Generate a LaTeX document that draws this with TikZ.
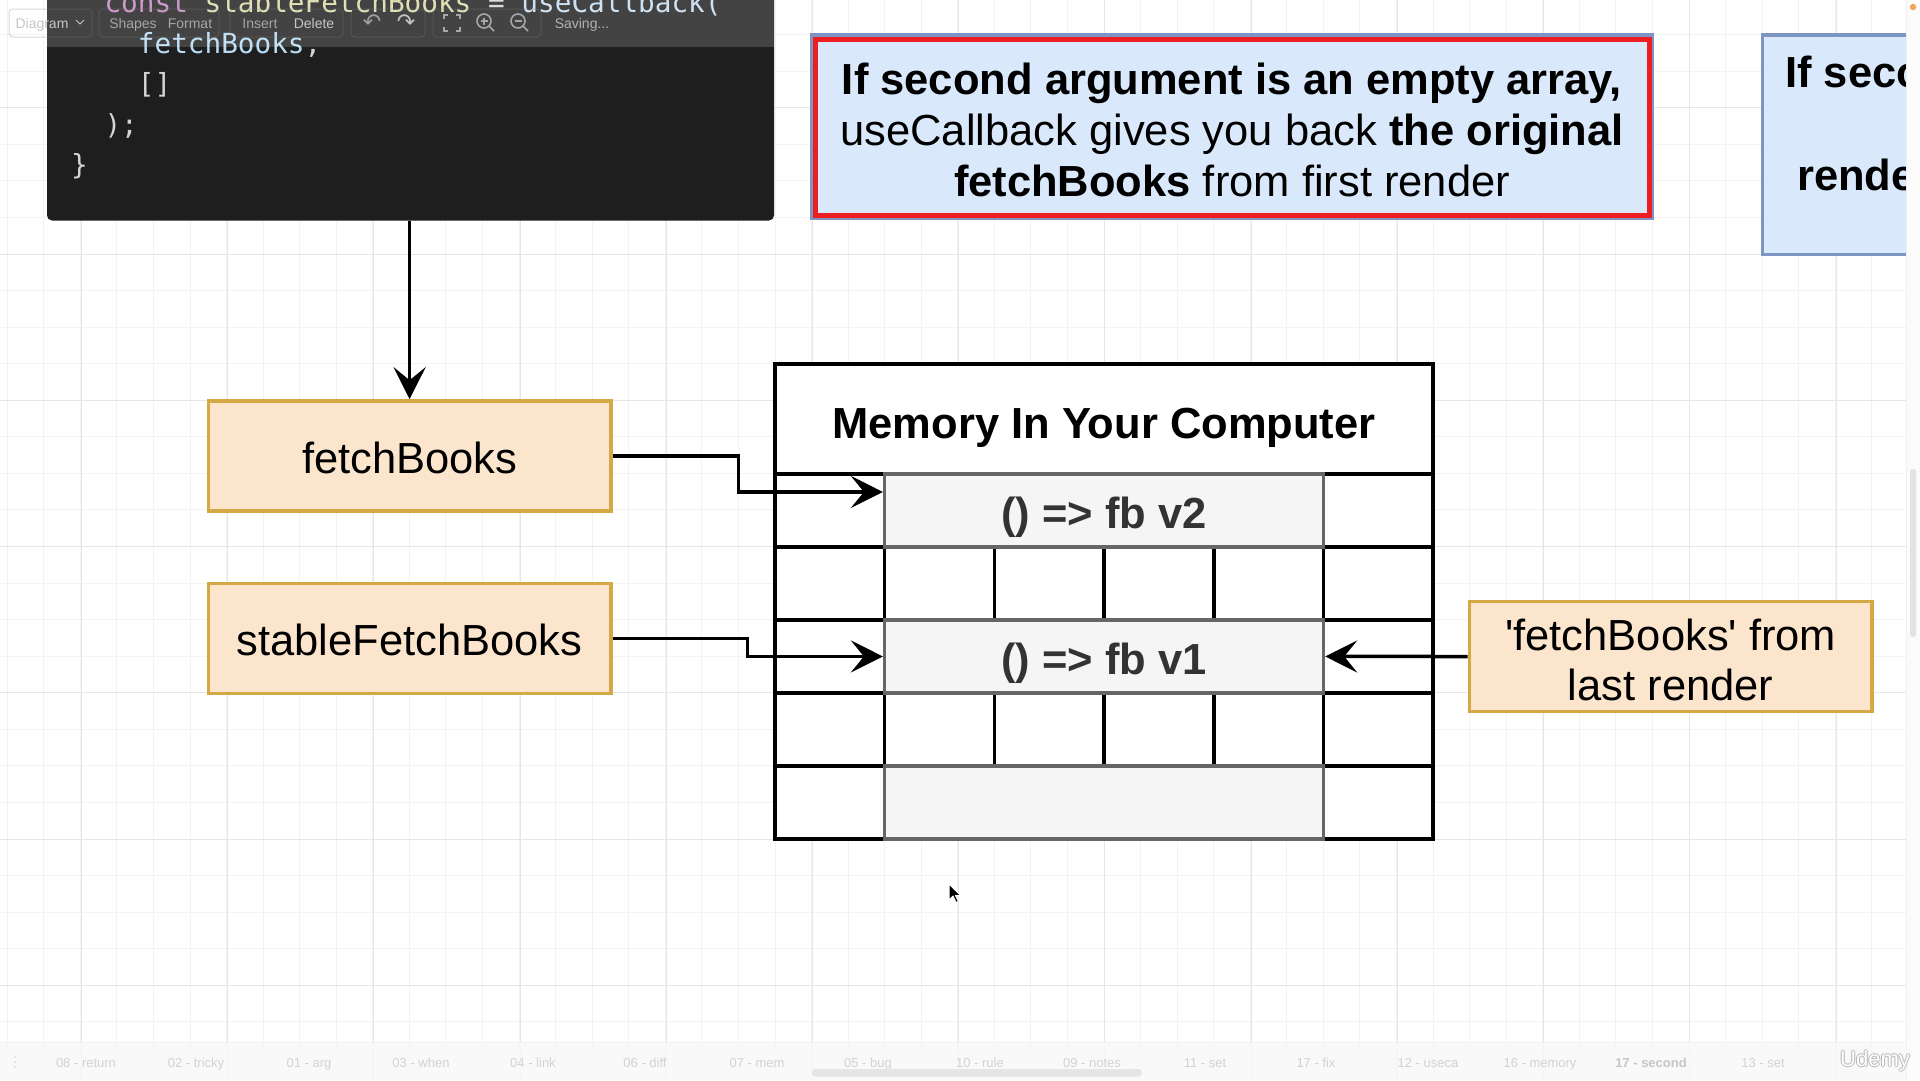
\documentclass[tikz,border=0pt]{standalone}
\usepackage{fontspec}
\setmainfont{Liberation Sans}[Ligatures=TeXOff]
\newfontfamily\codefont{DejaVu Sans Mono}
\newfontfamily\symfont{DejaVu Sans}
\usetikzlibrary{arrows.meta}
\definecolor{codebg}{HTML}{1E1E1E}
\definecolor{gridmin}{HTML}{F3F3F3}
\definecolor{gridmaj}{HTML}{E6E6E6}
\definecolor{orangefill}{HTML}{FBE5CD}
\definecolor{orangeline}{HTML}{D4A845}
\definecolor{cellfill}{HTML}{F5F5F5}
\definecolor{cellline}{HTML}{666666}
\definecolor{celltext}{HTML}{333333}
\definecolor{notefill}{HTML}{DAE8FC}
\definecolor{noteline}{HTML}{7D95C3}
\definecolor{notered}{HTML}{EE1D23}
\definecolor{cpurple}{HTML}{C586C0}
\definecolor{cyellow}{HTML}{DCDCAA}
\definecolor{cwhite}{HTML}{D4D4D4}
\definecolor{cfunc}{HTML}{C4DCF0}
\definecolor{cvar}{HTML}{B8DCF5}
\definecolor{tabgray}{HTML}{D2D2D2}
\definecolor{stripbg}{HTML}{FBFBFB}
\definecolor{barbg}{HTML}{F8F8F8}
\definecolor{dotorange}{HTML}{F2A65A}
\newcommand{\bigf}{\fontsize{43.5}{51}\selectfont}
\newcommand{\codef}{\codefont\fontsize{27.7}{40}\selectfont}
\begin{document}
\begin{tikzpicture}[x=1pt,y=-1pt,
  gridminor/.style={draw=gridmin, line width=1pt},
  gridmajor/.style={draw=gridmaj, line width=1pt},
  obox/.style={draw=orangeline, fill=orangefill, line width=3.6pt, minimum width=402.6pt, minimum height=109.7pt, inner sep=0pt, font=\bigf, text height=35pt, text depth=0pt},
  cellbox/.style={draw=cellline, fill=cellfill, line width=3.6pt, minimum width=438.7pt, minimum height=73.1pt, inner sep=0pt, font=\bigf\bfseries, text=celltext, text height=35.5pt, text depth=0pt},
  memline/.style={draw=black, line width=3.6pt},
  notebox/.style={draw=noteline, fill=notefill, line width=3.6pt, minimum width=840.9pt, inner sep=0pt},
  arr/.style={draw=black, line width=3.5pt, -{Stealth[length=32pt, width=32pt, inset=13pt]}},
  txt/.style={inner sep=0pt, anchor=base, font=\bigf},
  tabtxt/.style={inner sep=0pt, anchor=base, font=\fontsize{13}{15}\selectfont, text=tabgray},
  tbtxt/.style={inner sep=0pt, anchor=base, font=\fontsize{14}{16}\selectfont},
  codetxt/.style={inner sep=0pt, anchor=base west, font=\codef},
  tbgroup/.style={draw=gray, draw opacity=0.3, line width=1pt, rounded corners=4pt}
]
\useasboundingbox (0,0) rectangle (1920,1080);
\fill[white] (0,0) rectangle (1920,1080);

% grid
\foreach \k in {-21,...,31}{\draw[gridminor] ({775+\k*36.56},0) -- ({775+\k*36.56},1080);}
\foreach \j in {-6,...,22}{\draw[gridminor] (0,{839-\j*36.56}) -- (1906,{839-\j*36.56});}
\foreach \m in {-5,...,7}{\draw[gridmajor] ({812.5+\m*146.24},0) -- ({812.5+\m*146.24},1080);}
\foreach \m in {-5,...,1}{\draw[gridmajor] (0,{839+\m*146.24}) -- (1906,{839+\m*146.24});}

% code block
\node[fill=codebg, rounded corners=5pt, minimum width=727pt, minimum height=240pt, inner sep=0pt] (code) at (410.5,100.5) {};
\begin{scope}
\clip (47,0) rectangle (774,220.5);
\node[codetxt] (c1) at (71,12.5) {\ \ \textcolor{cpurple}{const} \textcolor{cyellow}{stableFetchBooks} \textcolor{cwhite}{=} \textcolor{cfunc}{useCallback(}};
\node[codetxt] (c2) at (71,53) {\textcolor{cwhite}{\ \ \ \ }\textcolor{cvar}{fetchBooks}\textcolor{cwhite}{,}};
\node[codetxt] (c3) at (71,93.5) {\textcolor{cwhite}{\ \ \ \ []}};
\node[codetxt] (c4) at (71,134) {\textcolor{cwhite}{\ \ );}};
\node[codetxt] (c5) at (71,174.5) {\textcolor{cwhite}{\}}};
\end{scope}

% toolbar overlay
\fill[white, opacity=0.17] (47,0) rectangle (774,47);
\draw[tbgroup] (9,9) rectangle (92,37);
\draw[tbgroup] (99,9) rectangle (219,37);
\draw[tbgroup] (230,9) rectangle (343,37);
\draw[tbgroup] (351,9) rectangle (425,37);
\draw[tbgroup] (433,9) rectangle (541,37);
\node[tbtxt, text=gray!45] (tb1) at (42,28) {Diagram};
\draw[gray!45, line width=1pt] (76,20) -- (80,24) -- (84,20);
\node[tbtxt, text=gray!70] (tb2) at (133,28) {Shapes};
\node[tbtxt, text=gray!70] (tb3) at (190,28) {Format};
\node[tbtxt, text=gray!70] (tb4) at (260,28) {Insert};
\node[tbtxt, text=gray!45] (tb5) at (314,28) {Delete};
\node[tbtxt, text=gray!60] (tb6) at (582,28) {Saving...};
\node[inner sep=0pt, font=\symfont\fontsize{22}{24}\selectfont, text=gray!75] (undo) at (372,22) {↶};
\node[inner sep=0pt, font=\symfont\fontsize{22}{24}\selectfont, text=gray!45] (redo) at (406,22) {↷};
\begin{scope}[draw=gray!70, line width=1.6pt]
\draw (444,19) -- (444,15) -- (448,15); \draw (456,15) -- (460,15) -- (460,19);
\draw (444,27) -- (444,31) -- (448,31); \draw (456,31) -- (460,31) -- (460,27);
\draw (484,21) circle (7); \draw (489,26) -- (494,31); \draw (480.5,21) -- (487.5,21); \draw (484,17.5) -- (484,24.5);
\draw (518,21) circle (7); \draw (523,26) -- (528,31); \draw (514.5,21) -- (521.5,21);
\end{scope}

% orange boxes
\node[obox] (fb) at (409.6,455.85) {fetchBooks};
\node[obox] (sfb) at (409.6,638.45) {stableFetchBooks};
\node[obox] (last) at (1670.7,656.5) {};
\node[txt] (last1) at (1670.7,650) {'fetchBooks' from};
\node[txt] (last2) at (1670.7,700) {last render};

% memory
\node[memline, fill=white, minimum width=658.1pt, minimum height=475.2pt, inner sep=0pt] (membox) at (1104.05,601.6) {};
\foreach \yy in {473.7,546.8,619.9,693.0,766.1}{\draw[memline] (775,\yy) -- (1433.1,\yy);}
\draw[memline] (884.68,473.7) -- (884.68,839.2);
\draw[memline] (1323.4,473.7) -- (1323.4,839.2);
\foreach \xx in {994.36,1104.04,1213.72}{\draw[memline] (\xx,546.8) -- (\xx,619.9); \draw[memline] (\xx,693) -- (\xx,766.1);}
\node[cellbox] (v2) at (1104.04,510.25) {() => fb v2};
\node[cellbox] (v1) at (1104.04,656.45) {() => fb v1};
\node[cellbox] (v0) at (1104.04,802.65) {};
\node[txt, font=\bigf\bfseries] (mem) at (1104.04,438.3) {Memory In Your Computer};

% note
\node[notebox, minimum height=183.2pt] (note) at (1231.98,126.6) {};
\draw[notered, line width=4.8pt] (815.3,39.1) rectangle (1649.6,215.6);
\node[txt, font=\bigf\bfseries] (n1) at (1232,94) {If second argument is an empty array,};
\node[txt] (n2) at (1232,145) {useCallback gives you back \textbf{the original}};
\node[txt] (n3) at (1232,196) {\textbf{fetchBooks} from first render};

% partial note on the right
\begin{scope}
\clip (1700,0) rectangle (1906,300);
\node[notebox, minimum height=219.3pt] (note2) at (2182.8,144.65) {};
\node[txt, anchor=base west, font=\bigf\bfseries] (n21) at (1785,87) {If second};
\node[txt, anchor=base west, font=\bigf\bfseries] (n22) at (1797,190) {render};
\end{scope}

% connectors
\draw[arr] (code.south -| fb.north) -- (fb.north);
\draw[arr] (fb.east) -- ++(125.7,0) |- ([yshift=18.3pt]v2.west);
\draw[arr] (sfb.east) -- ++(134.7,0) |- (v1.west);
\draw[arr] (last.west) -- (v1.east);

% mouse cursor
\filldraw[fill=black, draw=white, line width=1pt, line join=round] (949,884) -- (949,900) -- (953,896) -- (956,902.5) -- (958.5,901.5) -- (955.5,895.5) -- (960.5,895.5) -- cycle;

% right strip
\fill[stripbg] (1906,0) rectangle (1920,1080);
\draw[gray!12, line width=1pt] (1906,0) -- (1906,1080);
\fill[gray!22, rounded corners=2.5pt] (1910,469) rectangle (1916,637);
\fill[dotorange] (1913,7) circle (3.2);

% bottom bar
\fill[barbg, opacity=0.85] (0,1042) rectangle (1906,1080);
\draw[gray!12, line width=1pt] (0,1042) -- (1906,1042);
\fill[gray!25] (15,1057) circle (1.2); \fill[gray!25] (15,1062) circle (1.2); \fill[gray!25] (15,1067) circle (1.2);
\foreach \xx/\tt [count=\i] in {86/08 - return,196/02 - tricky,309/01 - arg,421/03 - when,533/04 - link,645/06 - diff,757/07 - mem,868/05 - bug,980/10 - rule,1092/09 - notes,1205/11 - set,1316/17 - fix,1428/12 - useca,1540/16 - memory,1763/13 - set}{\node[tabtxt] (tab\i) at (\xx,1067) {\tt};}
\node[tabtxt, text=gray!45, font=\fontsize{13}{15}\selectfont\bfseries] (tabcur) at (1651,1067) {17 - second};
\fill[gray!20, rounded corners=3.5pt] (812,1069) rectangle (1142,1076.5);
\foreach \dx/\dy in {-1/0,1/0,0/-1,0/1}{\node[inner sep=0pt, anchor=base, font=\fontsize{22}{24}\selectfont, text=gray!55] at (1875+\dx,1066+\dy) {Udemy};}
\node[inner sep=0pt, anchor=base, font=\fontsize{22}{24}\selectfont, text=white] (udemy) at (1875,1066) {Udemy};
\end{tikzpicture}
\end{document}
